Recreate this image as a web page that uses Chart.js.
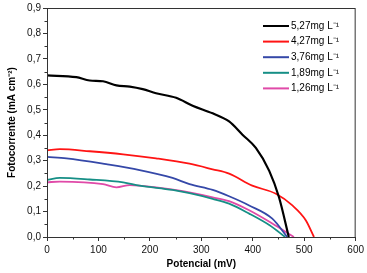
<!DOCTYPE html>
<html>
<head>
<meta charset="utf-8">
<script src="https://cdn.jsdelivr.net/npm/chart.js@4"></script>
<style>
  html, body { margin: 0; padding: 0; background: #fff; }
  #wrap { width: 367px; height: 273px; }
</style>
</head>
<body>
<div id="wrap"><canvas id="myChart" width="367" height="273"></canvas></div>
<script>
// potential (mV) and photocurrent (mA cm-2)
var labels = ['5,27mg L\u207B\u00B9', '4,27mg L\u207B\u00B9', '3,76mg L\u207B\u00B9', '1,89mg L\u207B\u00B9', '1,26mg L\u207B\u00B9'];
var colors = ['#000000', '#ff1414', '#3548a8', '#168f86', '#e04aa8'];

var potBlack = [0, 57, 83, 109, 135, 161, 186, 212, 251, 283, 322, 354, 380, 406, 432, 451, 470];
var curBlack = [0.635, 0.628, 0.615, 0.612, 0.596, 0.591, 0.581, 0.565, 0.547, 0.516, 0.486, 0.454, 0.402, 0.350, 0.260, 0.156, 0.0];

var potRed = [0, 25, 83, 148, 212, 277, 322, 354, 399, 445, 477, 503, 519];
var curRed = [0.341, 0.345, 0.337, 0.325, 0.309, 0.288, 0.266, 0.249, 0.202, 0.170, 0.124, 0.066, 0.0];

var potBlue = [0, 38, 115, 180, 244, 277, 322, 354, 393, 438, 467];
var curBlue = [0.315, 0.309, 0.286, 0.263, 0.232, 0.208, 0.185, 0.160, 0.124, 0.072, 0.0];

var potTeal = [0, 25, 83, 148, 180, 244, 277, 322, 354, 393, 432, 463];
var curTeal = [0.225, 0.232, 0.226, 0.215, 0.202, 0.185, 0.172, 0.150, 0.131, 0.092, 0.047, 0.0];

var potPink = [0, 25, 109, 135, 161, 212, 264, 322, 354, 393, 438, 480];
var curPink = [0.215, 0.218, 0.208, 0.195, 0.204, 0.195, 0.180, 0.156, 0.141, 0.105, 0.053, 0.0];

var xTicks = [0, 100, 200, 300, 400, 500, 600];
var yTicks = ['0,0', '0,1', '0,2', '0,3', '0,4', '0,5', '0,6', '0,7', '0,8', '0,9'];

function pts(xs, ys) {
  return xs.map(function (x, i) { return { x: x, y: ys[i] }; });
}

var series = [pts(potBlack, curBlack), pts(potRed, curRed), pts(potBlue, curBlue), pts(potTeal, curTeal), pts(potPink, curPink)];

var datasets = series.map(function (d, i) {
  return {
    label: labels[i],
    data: d,
    borderColor: colors[i],
    backgroundColor: colors[i],
    borderWidth: i === 0 ? 2.2 : 1.8,
    pointRadius: 0,
    fill: false,
    tension: 0.25,
    cubicInterpolationMode: 'monotone'
  };
});

// frame, minor ticks and the legend inside the plot
var extras = {
  id: 'extras',
  afterDraw: function (chart) {
    var c = chart.ctx, a = chart.chartArea;
    var xs = chart.scales.x, ys = chart.scales.y;
    c.save();
    c.strokeStyle = '#333';
    c.lineWidth = 1;
    c.strokeRect(a.left + 0.5, a.top + 0.5, a.right - a.left - 1, a.bottom - a.top);
    c.beginPath();
    for (var v = 50; v < 600; v += 100) {
      var px = Math.round(xs.getPixelForValue(v)) + 0.5;
      c.moveTo(px, a.bottom); c.lineTo(px, a.bottom + 2.5);
    }
    for (var k = 0; k < 9; k++) {
      var py = Math.round(ys.getPixelForValue(k / 10 + 0.05)) + 0.5;
      c.moveTo(a.left, py); c.lineTo(a.left - 2.5, py);
    }
    c.stroke();

    c.font = '10px "Liberation Sans", Arial, sans-serif';
    c.textBaseline = 'middle';
    chart.data.datasets.forEach(function (ds, i) {
      var y = a.top + 18 + i * 15.6;
      c.strokeStyle = ds.borderColor;
      c.lineWidth = 2;
      c.beginPath();
      c.moveTo(263, y); c.lineTo(289, y);
      c.stroke();
      c.fillStyle = '#000';
      c.fillText(ds.label, 291, y);
    });
    c.restore();
  }
};

var ctx = document.getElementById('myChart').getContext('2d');
var myChart = new Chart(ctx, {
  type: 'line',
  data: { datasets: datasets },
  options: {
    responsive: false,
    animation: false,
    layout: { padding: { top: 5, right: 10, left: 0, bottom: 0 } },
    plugins: { legend: { display: false }, tooltip: { enabled: false } },
    scales: {
      x: {
        type: 'linear',
        min: 0, max: 600,
        afterFit: function (s) { s.height = 36; },
        afterBuildTicks: function (s) { s.ticks = xTicks.map(function (v) { return { value: v }; }); },
        ticks: {
          color: '#111',
          font: { family: '"Liberation Sans", Arial, sans-serif', size: 10 },
          padding: 3,
          maxRotation: 0
        },
        grid: { drawOnChartArea: false, drawTicks: true, tickLength: 4, color: '#333' },
        border: { display: true, color: '#333' },
        title: {
          display: true,
          text: 'Potencial (mV)',
          color: '#000',
          font: { family: '"Liberation Sans", Arial, sans-serif', size: 10, weight: 'bold' },
          padding: { top: 2, bottom: 3 }
        }
      },
      y: {
        min: 0, max: 0.9,
        afterFit: function (s) { s.width = 47; },
        afterBuildTicks: function (s) { s.ticks = yTicks.map(function (t, i) { return { value: i / 10 }; }); },
        ticks: {
          color: '#111',
          font: { family: '"Liberation Sans", Arial, sans-serif', size: 10 },
          padding: 2,
          callback: function (v, i) { return yTicks[i]; }
        },
        grid: { drawOnChartArea: false, drawTicks: true, tickLength: 4, color: '#333' },
        border: { display: true, color: '#333' },
        title: {
          display: true,
          text: 'Fotocorrente (mA cm\u207B\u00B2)',
          color: '#000',
          font: { family: '"Liberation Sans", Arial, sans-serif', size: 10, weight: 'bold' },
          padding: { top: 6, bottom: 2 }
        }
      }
    }
  },
  plugins: [extras]
});
</script>
</body>
</html>
